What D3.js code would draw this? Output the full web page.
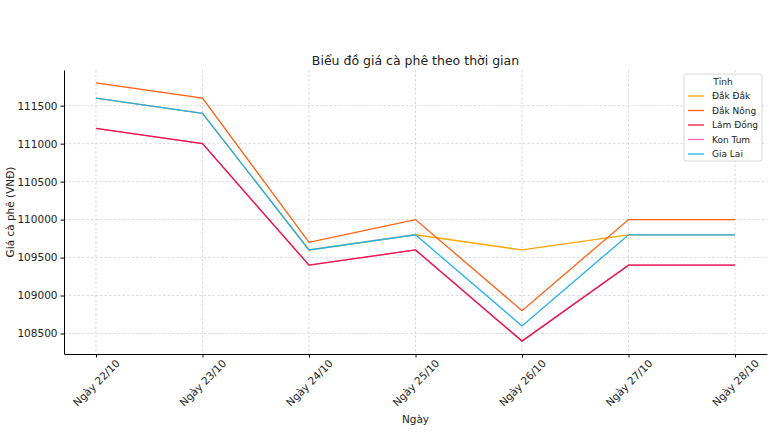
<!DOCTYPE html>
<html>
<head>
<meta charset="utf-8">
<script src="https://cdn.jsdelivr.net/npm/d3@7"></script>
<style>
  body { margin: 0; background: #fff; }
  svg { font-family: 'DejaVu Sans', sans-serif; }
</style>
</head>
<body>
<div id="viz"></div>
<script>
// chart values
const days = ['Ngày 22/10', 'Ngày 23/10', 'Ngày 24/10', 'Ngày 25/10', 'Ngày 26/10', 'Ngày 27/10', 'Ngày 28/10'];
const provinces = ['Đắk Đắk', 'Đắk Nông', 'Lâm Đồng', 'Kon Tum', 'Gia Lai'];
const dakLak = [111600, 111400, 109600, 109800, 109600, 109800, 109800];
const dakNong = [111800, 111600, 109700, 110000, 108800, 110000, 110000];
const lamDong = [111200, 111000, 109400, 109600, 108400, 109400, 109400];
const konTum = [111200, 111000, 109400, 109600, 108400, 109400, 109400];
const giaLai = [111600, 111400, 109600, 109800, 108600, 109800, 109800];
const yTicks = [108500, 109000, 109500, 110000, 110500, 111000, 111500];

const colors = ['#ffa500', '#ff5f0f', '#e8174a', '#ff69b4', '#1fb0f0'];
const seriesValues = [dakLak, dakNong, lamDong, konTum, giaLai];
const drawOrder = [3, 0, 1, 2, 4]; // hidden duplicates go underneath

const width = 770, height = 442;
const margin = {left: 64, right: 3, top: 70, bottom: 88};
const vizWidth = width - margin.left - margin.right;
const vizHeight = height - margin.top - margin.bottom;

const svg = d3.select('#viz').append('svg')
  .attr('width', width)
  .attr('height', height);
const g = svg.append('g').attr('transform', `translate(${margin.left},${margin.top})`);

// matplotlib-like 5% padding
const x = d3.scaleLinear().domain([-0.3, days.length - 1 + 0.3]).range([0, vizWidth]);
const yMin = 108400, yMax = 111800, pad = (yMax - yMin) * 0.05;
const y = d3.scaleLinear().domain([yMin - pad, yMax + pad]).range([vizHeight, 0]);

// grid
g.append('g').selectAll('line').data(days).join('line')
  .attr('x1', (d, i) => x(i)).attr('x2', (d, i) => x(i))
  .attr('y1', 0).attr('y2', vizHeight)
  .attr('stroke', '#cfcfcf').attr('stroke-width', 0.8).attr('stroke-dasharray', '2.5,2');
g.append('g').selectAll('line').data(yTicks).join('line')
  .attr('x1', 0).attr('x2', vizWidth)
  .attr('y1', d => y(d)).attr('y2', d => y(d))
  .attr('stroke', '#cfcfcf').attr('stroke-width', 0.8).attr('stroke-dasharray', '2.5,2');

// lines
const line = d3.line().x((d, i) => x(i)).y(d => y(d));
drawOrder.forEach(k => {
  g.append('path')
    .attr('d', line(seriesValues[k]))
    .attr('fill', 'none')
    .attr('stroke', colors[k])
    .attr('stroke-width', 1.3);
});

// axes
const xAxis = g.append('g')
  .attr('transform', `translate(0,${vizHeight})`)
  .call(d3.axisBottom(x).tickValues(d3.range(days.length)).tickFormat(i => days[i]).tickSize(3.5).tickSizeOuter(0));
xAxis.selectAll('text')
  .attr('font-size', 10.5)
  .attr('fill', '#222')
  .attr('text-anchor', 'middle')
  .attr('x', 0).attr('y', 0)
  .attr('dy', '0.35em')
  .attr('transform', 'translate(0,29) rotate(-45)');
const yAxis = g.append('g')
  .call(d3.axisLeft(y).tickValues(yTicks).tickFormat(d3.format('d')).tickSize(3.5).tickSizeOuter(0));
yAxis.selectAll('text').attr('font-size', 10.5).attr('fill', '#222');
[xAxis, yAxis].forEach(a => {
  a.select('.domain').attr('stroke', '#000').attr('stroke-width', 1);
  a.selectAll('.tick line').attr('stroke', '#000');
  a.attr('font-family', null);
});

// titles
svg.append('text').attr('x', margin.left + vizWidth / 2).attr('y', 65)
  .attr('text-anchor', 'middle').attr('font-size', 12.5).attr('fill', '#222')
  .text('Biểu đồ giá cà phê theo thời gian');
svg.append('text').attr('x', margin.left + vizWidth / 2).attr('y', 423)
  .attr('text-anchor', 'middle').attr('font-size', 10.5).attr('fill', '#222')
  .text('Ngày');
svg.append('text')
  .attr('transform', `translate(14,${margin.top + vizHeight / 2}) rotate(-90)`)
  .attr('text-anchor', 'middle').attr('font-size', 10.5).attr('fill', '#222')
  .text('Giá cà phê (VNĐ)');

// legend
const leg = svg.append('g').attr('transform', 'translate(684,74)');
leg.append('rect').attr('width', 78).attr('height', 87).attr('rx', 2)
  .attr('fill', '#fff').attr('fill-opacity', 0.85).attr('stroke', '#d8d8d8');
leg.append('text').attr('x', 39).attr('y', 11).attr('text-anchor', 'middle')
  .attr('font-size', 9).attr('fill', '#222').text('Tỉnh');
provinces.forEach((p, i) => {
  const yy = 22 + i * 14.5;
  leg.append('line').attr('x1', 4).attr('x2', 20).attr('y1', yy).attr('y2', yy)
    .attr('stroke', colors[i]).attr('stroke-width', 1.3);
  leg.append('text').attr('x', 28).attr('y', yy + 3.2)
    .attr('font-size', 9).attr('fill', '#222').text(p);
});
</script>
</body>
</html>
